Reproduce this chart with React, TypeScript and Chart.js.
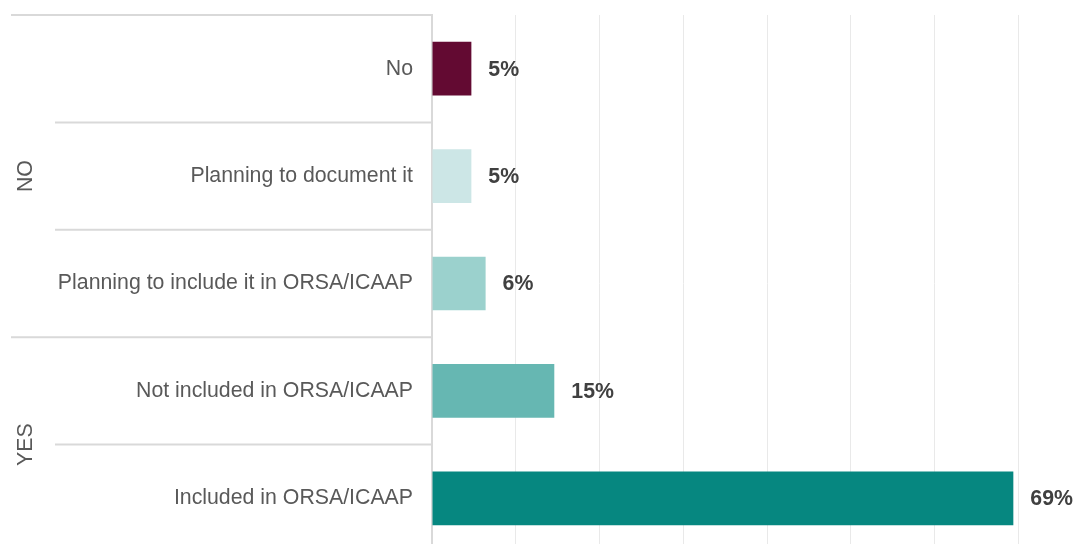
import React, { useEffect, useRef } from "react";
import { Chart, registerables } from "chart.js";

Chart.register(...registerables);

const categories = [
  "No",
  "Planning to document it",
  "Planning to include it in ORSA/ICAAP",
  "Not included in ORSA/ICAAP",
  "Included in ORSA/ICAAP",
];
const values = [4.7, 4.7, 6.4, 14.6, 69.4];
const barColors = ["#630a32", "#cce6e6", "#9bd1cd", "#66b7b2", "#068780"];
const groupLabels = ["NO", "YES"];
const groupSizes = [3, 2];

const FONT = "'Liberation Sans', Arial, sans-serif";

const decorPlugin = {
  id: "decor",
  afterDraw(chart: any) {
    const ctx = chart.ctx;
    const area = chart.chartArea;
    const n = categories.length;
    const band = (area.bottom - area.top) / n;
    const axisX = area.left;
    const groupStarts: number[] = [];
    let acc = 0;
    groupSizes.forEach((s) => {
      groupStarts.push(acc);
      acc += s;
    });
    ctx.save();
    ctx.strokeStyle = "#d9d9d9";
    ctx.lineWidth = 2;
    for (let k = 0; k <= n; k++) {
      const yy = area.top + k * band;
      const isGroup = groupStarts.includes(k) || k === n;
      const x0 = isGroup ? 11 : 55;
      ctx.beginPath();
      ctx.moveTo(x0, yy);
      ctx.lineTo(axisX, yy);
      ctx.stroke();
    }
    ctx.fillStyle = "#595959";
    ctx.font = `21.3px ${FONT}`;
    ctx.textAlign = "center";
    ctx.textBaseline = "middle";
    groupLabels.forEach((g, gi) => {
      const s = groupStarts[gi];
      const e = s + groupSizes[gi];
      const cy = area.top + ((s + e) / 2) * band;
      ctx.save();
      ctx.translate(26, cy);
      ctx.rotate(-Math.PI / 2);
      ctx.fillText(g, 0, 0);
      ctx.restore();
    });
    const meta = chart.getDatasetMeta(0);
    ctx.fillStyle = "#404040";
    ctx.font = `bold 21.3px ${FONT}`;
    ctx.textAlign = "left";
    meta.data.forEach((bar: any, i: number) => {
      ctx.fillText(Math.round(values[i]) + "%", bar.x + 17, bar.y + 1);
    });
    ctx.restore();
  },
};

export default function App() {
  const ref = useRef<HTMLCanvasElement>(null);
  useEffect(() => {
    if (!ref.current) return;
    const chart = new Chart(ref.current, {
      type: "bar",
      data: {
        labels: categories,
        datasets: [
          {
            data: values,
            backgroundColor: barColors,
            borderWidth: 0,
            barPercentage: 0.5,
            categoryPercentage: 1,
          },
        ],
      },
      options: {
        indexAxis: "y",
        responsive: false,
        animation: false,
        layout: { padding: { top: 15, right: 12, bottom: 0, left: 0 } },
        plugins: {
          legend: { display: false },
          tooltip: { enabled: false },
        },
        scales: {
          x: {
            min: 0,
            max: 77,
            ticks: { display: false, stepSize: 10 },
            grid: {
              drawTicks: false,
              color: (c: any) =>
                c.tick && c.tick.value > 0 && c.tick.value % 10 === 0
                  ? "#e9e9e9"
                  : "rgba(0,0,0,0)",
              lineWidth: 1,
            },
            border: { display: false },
            afterFit: (s: any) => {
              s.height = 0;
              s.paddingLeft = 0;
              s.paddingRight = 0;
            },
          },
          y: {
            grid: { display: false, drawTicks: false },
            border: { display: true, color: "#d9d9d9", width: 2 },
            ticks: {
              padding: 19,
              color: "#595959",
              font: { family: FONT, size: 21.3 },
              autoSkip: false,
            },
            afterFit: (s: any) => {
              s.width = 432;
              s.paddingTop = 0;
              s.paddingBottom = 0;
            },
          },
        },
      },
      plugins: [decorPlugin],
    });
    return () => chart.destroy();
  }, []);
  return (
    <div style={{ position: "fixed", left: 0, top: 0, width: 1089, height: 552, background: "#fff" }}>
      <canvas ref={ref} width={1089} height={552} style={{ display: "block" }} />
    </div>
  );
}
